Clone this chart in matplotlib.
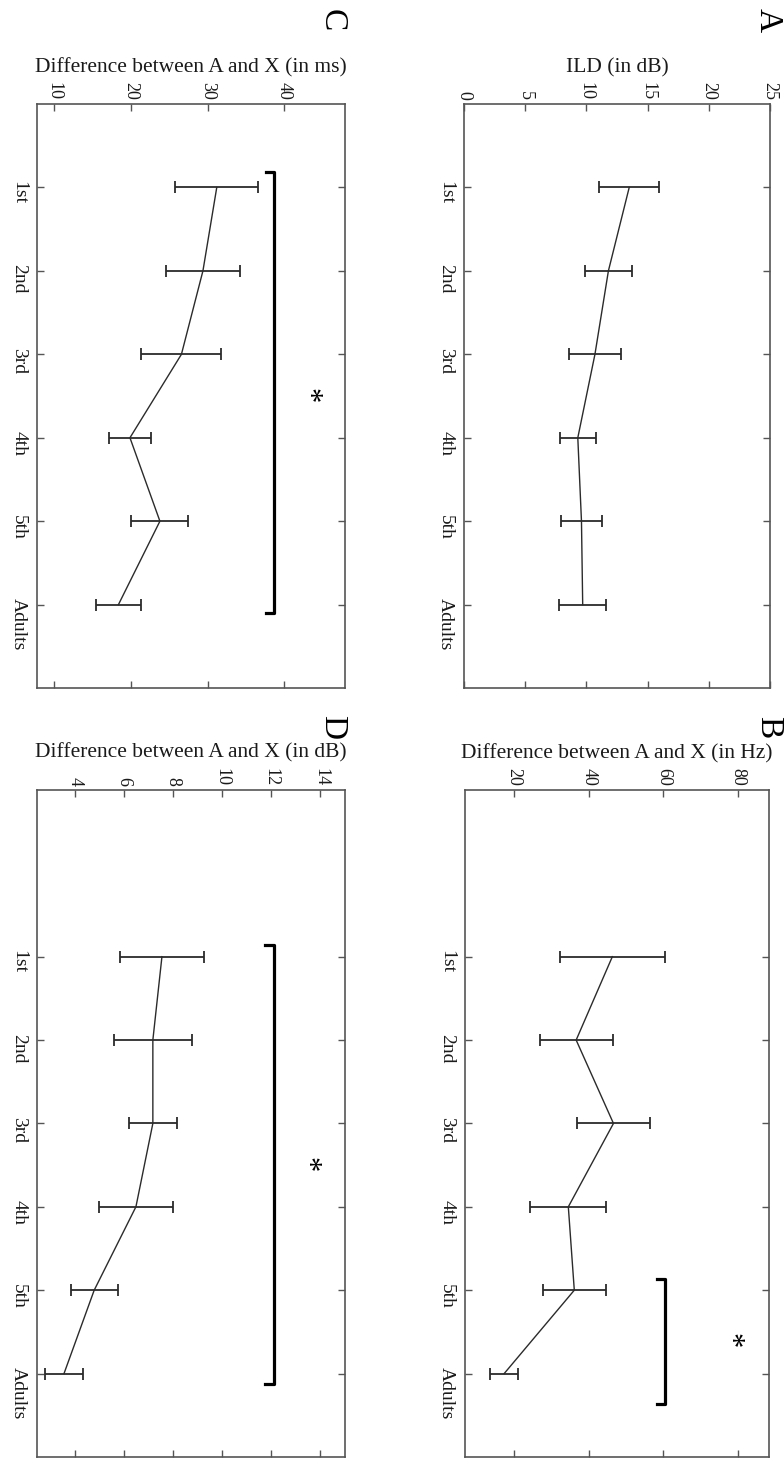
import numpy as np
import matplotlib.pyplot as plt

# categories (top to bottom in the rotated figure)
groups = ["1st", "2nd", "3rd", "4th", "5th", "Adults"]

# A: ILD thresholds
ild_mean = [13.5, 11.8, 10.7, 9.3, 9.6, 9.7]
ild_err = [2.45, 1.9, 2.15, 1.45, 1.7, 1.9]

# B: frequency difference
freq_mean = [46.3, 36.6, 46.6, 34.5, 36.1, 17.3]
freq_err = [14.0, 9.8, 9.8, 10.2, 8.5, 3.7]

# C: time difference
time_mean = [31.2, 29.4, 26.6, 19.9, 23.8, 18.4]
time_err = [5.4, 4.8, 5.2, 2.7, 3.7, 2.9]

# D: level difference
level_mean = [7.54, 7.17, 7.17, 6.48, 4.78, 3.55]
level_err = [1.7, 1.6, 0.97, 1.5, 0.95, 0.77]

serif = ["Liberation Serif", "DejaVu Serif"]
ink = "#1a1a1a"

W, H = 784, 1459
fig = plt.figure(figsize=(W / 100, H / 100), dpi=100)

panels = [
    # letter, rect, mean, err, xlim, xticks, ylim, xlabel, bracket(x, y0, y1), star(x, y), letter px
    ("A", [0.5918, 0.5284, 0.3903, 0.4003], ild_mean, ild_err, (0, 25), [0, 5, 10, 15, 20, 25],
     (7, 0), "ILD (in dB)", None, None, (768, 20)),
    ("C", [0.0472, 0.5284, 0.3929, 0.4003], time_mean, time_err, (7.8, 47.9), [10, 20, 30, 40],
     (7, 0), "Difference between A and X (in ms)", (38.7, 0.82, 6.1), (42.9, 3.5), (332, 20)),
    ("B", [0.5931, 0.0014, 0.3878, 0.4572], freq_mean, freq_err, (6.8, 88.3), [20, 40, 60, 80],
     (7, -1), "Difference between A and X (in Hz)", (60.5, 4.87, 6.37), (77.7, 5.6), (768, 727)),
    ("D", [0.0472, 0.0014, 0.3929, 0.4572], level_mean, level_err, (2.45, 15.0), [4, 6, 8, 10, 12, 14],
     (7, -1), "Difference between A and X (in dB)", (12.1, 0.86, 6.12), (13.4, 3.5), (332, 727)),
]

pos = np.arange(1, len(groups) + 1)

for letter, rect, mean, err, xlim, xticks, ylim, xlabel, bracket, star, lpos in panels:
    ax = fig.add_axes(rect)
    ax.errorbar(mean, pos, xerr=err, color="#2b2b2b", lw=1.0, elinewidth=1.3,
                capsize=4, capthick=1.3)
    ax.set_xlim(*xlim)
    ax.set_ylim(*ylim)
    ax.set_xticks(xticks)
    ax.set_yticks(pos)
    ax.set_yticklabels(groups)
    ax.xaxis.tick_top()
    ax.xaxis.set_label_position("top")
    ax.tick_params(axis="both", direction="in", length=5, width=1, color="#555555",
                   top=True, bottom=True, left=True, right=True)
    ax.tick_params(axis="x", labelrotation=-90, labelsize=13, pad=3, labelcolor=ink)
    ax.tick_params(axis="y", labelrotation=-90, labelsize=14, pad=7, labelcolor=ink)
    for lab in ax.get_xticklabels() + ax.get_yticklabels():
        lab.set_family(serif)
    ax.set_xlabel(xlabel, fontsize=15.5, family=serif, color=ink, labelpad=7)
    for s in ax.spines.values():
        s.set_color("#555555")
        s.set_linewidth(1.2)

    if bracket is not None:
        bx, y0, y1 = bracket
        hook = (xlim[1] - xlim[0]) * 0.028
        ax.plot([bx - hook, bx, bx, bx - hook], [y0, y0, y1, y1], color="black", lw=2.3)
        ax.text(star[0], star[1], "*", fontsize=22, ha="center", va="center",
                rotation=-90, family=serif)

    fig.text(lpos[0] / W, 1 - lpos[1] / H, letter, rotation=-90, fontsize=24,
             family=serif, ha="center", va="center")

fig.savefig("out.png", dpi=100, facecolor="white")
